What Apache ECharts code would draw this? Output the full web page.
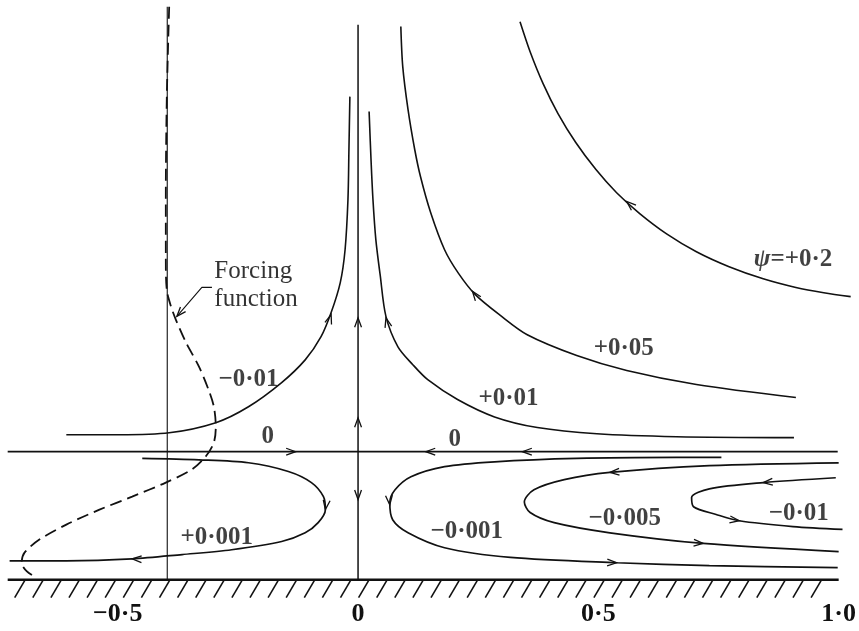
<!DOCTYPE html>
<html>
<head>
<meta charset="utf-8">
<title>Streamlines</title>
<script src="https://cdn.jsdelivr.net/npm/echarts@6/dist/echarts.min.js"></script>
<style>
  html, body { margin: 0; padding: 0; background: #fff; }
  #chart { width: 859px; height: 631px; }
</style>
</head>
<body>
<div id="chart"></div>
<script>
// axis ticks
const xTickValues = [-0.5, 0, 0.5, 1.0]
const xTickLabels = ['−0·5', '0', '0·5', '1·0']

// straight lines, [x, y] with y measured up from the wall
const wallLine = [[-0.729, 0], [1.0, 0]]
const zeroLine = [[-0.729, 0.265], [0.998, 0.265]]
const centreLine = [[0, 0], [0, 1.149]]
const forcingAxis = [[-0.397, 0], [-0.397, 1.186]]

// streamlines
const psiPlus02 = [[0.337, 1.155], [0.358, 1.093], [0.385, 1.027], [0.416, 0.965], [0.453, 0.905],
  [0.495, 0.849], [0.538, 0.801], [0.586, 0.758], [0.642, 0.716], [0.704, 0.679], [0.772, 0.648],
  [0.843, 0.623], [0.911, 0.605], [0.969, 0.594], [1.025, 0.586]]
const psiPlus005 = [[0.089, 1.145], [0.093, 1.062], [0.104, 0.973], [0.118, 0.890], [0.130, 0.834],
  [0.151, 0.760], [0.180, 0.683], [0.209, 0.634], [0.244, 0.590], [0.296, 0.547], [0.352, 0.507],
  [0.455, 0.464], [0.559, 0.433], [0.704, 0.404], [0.911, 0.377]]
const psiPlus001 = [[0.023, 0.969], [0.027, 0.869], [0.031, 0.787], [0.037, 0.704], [0.046, 0.631],
  [0.058, 0.545], [0.083, 0.482], [0.114, 0.445], [0.145, 0.414], [0.207, 0.373], [0.284, 0.337],
  [0.373, 0.315], [0.497, 0.302], [0.663, 0.296], [0.907, 0.294]]
const psiMinus001Upper = [[-0.607, 0.300], [-0.497, 0.300], [-0.393, 0.304], [-0.296, 0.325],
  [-0.228, 0.358], [-0.159, 0.408], [-0.110, 0.455], [-0.077, 0.503], [-0.056, 0.553], [-0.037, 0.615],
  [-0.027, 0.683], [-0.021, 0.787], [-0.019, 0.890], [-0.017, 1.000]]
const psiPlus0001 = [[-0.449, 0.251], [-0.331, 0.248], [-0.228, 0.242], [-0.145, 0.224], [-0.097, 0.201],
  [-0.072, 0.172], [-0.068, 0.145], [-0.083, 0.118], [-0.110, 0.097], [-0.159, 0.079], [-0.263, 0.062],
  [-0.366, 0.052], [-0.470, 0.043], [-0.607, 0.039], [-0.725, 0.039]]
const psiMinus0001 = [[0.756, 0.253], [0.663, 0.253], [0.455, 0.251], [0.284, 0.244], [0.180, 0.234],
  [0.110, 0.213], [0.077, 0.186], [0.066, 0.159], [0.072, 0.124], [0.104, 0.097], [0.180, 0.066],
  [0.317, 0.046], [0.538, 0.035], [0.731, 0.029], [0.998, 0.025]]
const psiMinus0005 = [[1.0, 0.242], [0.731, 0.236], [0.524, 0.222], [0.429, 0.207], [0.366, 0.186],
  [0.346, 0.161], [0.358, 0.139], [0.408, 0.118], [0.524, 0.097], [0.718, 0.075], [1.0, 0.058]]
const psiMinus001Lower = [[0.994, 0.211], [0.843, 0.201], [0.731, 0.188], [0.694, 0.170], [0.698, 0.151],
  [0.745, 0.135], [0.793, 0.122], [0.905, 0.110], [1.008, 0.104]]

// dashed forcing function
const forcingCurve = [[-0.393, 1.186], [-0.398, 0.994], [-0.400, 0.787], [-0.400, 0.663], [-0.398, 0.600],
  [-0.389, 0.565], [-0.379, 0.538], [-0.358, 0.491], [-0.331, 0.441], [-0.311, 0.393], [-0.300, 0.358],
  [-0.296, 0.317], [-0.300, 0.284], [-0.317, 0.255], [-0.346, 0.228], [-0.400, 0.201], [-0.470, 0.172],
  [-0.538, 0.145], [-0.607, 0.114], [-0.663, 0.083], [-0.694, 0.056], [-0.700, 0.035], [-0.689, 0.017],
  [-0.669, 0.004]]
const forcingPointer = [[-0.304, 0.605], [-0.325, 0.605], [-0.377, 0.545]]

// arrowheads: [x, y, direction in degrees]
const arrowPoints = [
  [-0.130, 0.265, 0], [0.141, 0.265, 180], [0.342, 0.265, 180],
  [0, 0.542, 90], [0, 0.335, 90], [0, 0.166, -90],
  [-0.056, 0.549, 72], [0.058, 0.542, 105], [0.238, 0.597, 127], [0.559, 0.783, 138],
  [-0.068, 0.145, -98], [-0.470, 0.043, 178],
  [0.066, 0.155, -85], [0.538, 0.035, -2],
  [0.524, 0.222, 184], [0.718, 0.075, -4],
  [0.843, 0.201, 185], [0.793, 0.122, -8],
  [-0.377, 0.545, 229]
]

// streamline labels
const labelTexts = ['ψ=+0·2', '+0·05', '+0·01', '−0·01', '0', '0', '+0·001', '−0·001', '−0·005', '−0·01']
const labelPositions = [[0.905, 0.663], [0.553, 0.478], [0.313, 0.375], [-0.228, 0.414], [-0.188, 0.296],
  [0.201, 0.290], [-0.294, 0.087], [0.226, 0.099], [0.555, 0.126], [0.917, 0.137]]
const noteText = 'Forcing\nfunction'
const notePosition = [-0.300, 0.609]

const ink = '#111'

function streamSeries(data, width, extra) {
  return Object.assign({
    type: 'line',
    data: data,
    showSymbol: false,
    symbol: 'none',
    smooth: 0.3,
    silent: true,
    lineStyle: { color: ink, width: width }
  }, extra || {})
}

const chart = echarts.init(document.getElementById('chart'))
chart.setOption({
  animation: false,
  backgroundColor: '#ffffff',
  grid: { left: 0, right: 2, top: 0, bottom: 32 },
  xAxis: {
    type: 'value',
    min: -0.745,
    max: 1.03,
    axisLine: { show: false },
    axisTick: { show: false },
    splitLine: { show: false },
    axisLabel: {
      customValues: xTickValues,
      margin: 2,
      fontFamily: 'Liberation Serif',
      fontWeight: 'bold',
      fontSize: 26,
      color: ink,
      formatter(v) {
        const i = xTickValues.findIndex(t => Math.abs(t - v) < 1e-6)
        return i >= 0 ? xTickLabels[i] : ''
      }
    }
  },
  yAxis: {
    type: 'value',
    min: -0.04,
    max: 1.2,
    show: false,
    splitLine: { show: false }
  },
  series: [
    streamSeries(wallLine, 2.6, { smooth: false }),
    streamSeries(zeroLine, 1.8, { smooth: false }),
    streamSeries(centreLine, 1.5, { smooth: false }),
    streamSeries(forcingAxis, 1.1, { smooth: false }),
    streamSeries(psiPlus02, 1.6),
    streamSeries(psiPlus005, 1.6),
    streamSeries(psiPlus001, 1.6),
    streamSeries(psiMinus001Upper, 1.6),
    streamSeries(psiPlus0001, 1.7),
    streamSeries(psiMinus0001, 1.7),
    streamSeries(psiMinus0005, 1.7),
    streamSeries(psiMinus001Lower, 1.7),
    streamSeries(forcingCurve, 1.8, { lineStyle: { color: ink, width: 1.8, type: [12, 6] } }),
    streamSeries(forcingPointer, 1.1, { smooth: false }),
    {
      // hatching under the wall
      type: 'custom',
      silent: true,
      data: [[wallLine[0][0], wallLine[1][0]]],
      encode: { x: [0, 1] },
      renderItem(params, api) {
        const a = api.coord([api.value(0), 0])
        const b = api.coord([api.value(1), 0])
        const children = []
        for (let x = a[0] + 17; x <= b[0] - 4; x += 18.1) {
          children.push({
            type: 'line',
            shape: { x1: x, y1: a[1] + 1, x2: x - 10, y2: a[1] + 18 },
            style: { stroke: ink, lineWidth: 1.6 }
          })
        }
        return { type: 'group', children: children }
      }
    },
    {
      type: 'custom',
      silent: true,
      data: arrowPoints,
      encode: { x: 0, y: 1 },
      renderItem(params, api) {
        const p = api.coord([api.value(0), api.value(1)])
        const a = api.value(2) * Math.PI / 180
        const len = 10
        const s = 20 * Math.PI / 180
        const back = d => [p[0] - len * Math.cos(a + d), p[1] + len * Math.sin(a + d)]
        return {
          type: 'polyline',
          shape: { points: [back(s), p, back(-s)] },
          style: { stroke: ink, lineWidth: 1.3, fill: null }
        }
      }
    },
    {
      type: 'scatter',
      silent: true,
      symbolSize: 1,
      itemStyle: { color: 'rgba(0,0,0,0)' },
      data: labelPositions.map((p, i) => ({ value: p, name: labelTexts[i] })),
      label: {
        show: true,
        position: 'inside',
        fontFamily: 'Liberation Serif',
        fontWeight: 'bold',
        fontSize: 25,
        color: ink,
        formatter: p => p.name.replace('ψ', '{i|ψ}'),
        rich: {
          i: { fontFamily: 'Liberation Serif', fontStyle: 'italic', fontWeight: 'bold', fontSize: 25, color: ink }
        }
      }
    },
    {
      type: 'scatter',
      silent: true,
      symbolSize: 1,
      itemStyle: { color: 'rgba(0,0,0,0)' },
      data: [{ value: notePosition, name: noteText }],
      label: {
        show: true,
        position: 'right',
        distance: 0,
        align: 'left',
        fontFamily: 'Liberation Serif',
        fontSize: 25,
        lineHeight: 28,
        color: '#000',
        formatter: '{b}'
      }
    }
  ]
})
</script>
</body>
</html>
